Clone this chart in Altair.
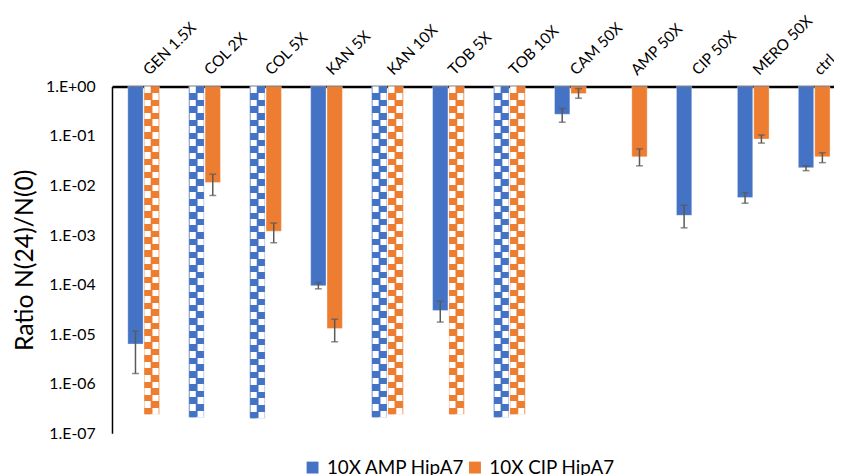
import altair as alt
import pandas as pd

# ---------------- data ----------------
categories = ["GEN 1.5X", "COL 2X", "COL 5X", "KAN 5X", "KAN 10X", "TOB 5X",
              "TOB 10X", "CAM 50X", "AMP 50X", "CIP 50X", "MERO 50X", "ctrl"]
series_names = ["10X AMP HipA7", "10X CIP HipA7"]

amp_ratio = [6.3e-6, 2.1e-7, 2.0e-7, 9.5e-5, 2.1e-7, 3.0e-5, 2.1e-7, 2.75e-1, None, 2.5e-3, 5.75e-3, 2.3e-2]
amp_err_low = [1.6e-6, None, None, 8.2e-5, None, 1.75e-5, None, 1.9e-1, None, 1.4e-3, 4.4e-3, 2.0e-2]
amp_err_high = [1.15e-5, None, None, 1.1e-4, None, 4.6e-5, None, 3.6e-1, None, 4.0e-3, 7.2e-3, 2.5e-2]
amp_below_limit = [False, True, True, False, True, False, True, False, False, False, False, False]

cip_ratio = [2.4e-7, 1.15e-2, 1.2e-3, 1.3e-5, 2.4e-7, 2.4e-7, 2.4e-7, 7.2e-1, 3.8e-2, None, 8.7e-2, 3.8e-2]
cip_err_low = [None, 6.3e-3, 7.0e-4, 7.0e-6, None, None, None, 5.8e-1, 2.5e-2, None, 7.2e-2, 2.9e-2]
cip_err_high = [None, 1.7e-2, 1.75e-3, 2.0e-5, None, None, None, 9.1e-1, 5.5e-2, None, 1.05e-1, 4.6e-2]
cip_below_limit = [True, False, False, False, True, True, True, False, False, False, False, False]

y_ticks = [1, 1e-1, 1e-2, 1e-3, 1e-4, 1e-5, 1e-6, 1e-7]

rows = []
for i, cat in enumerate(categories):
    for name, vals, lo, hi, chk in [
        (series_names[0], amp_ratio, amp_err_low, amp_err_high, amp_below_limit),
        (series_names[1], cip_ratio, cip_err_low, cip_err_high, cip_below_limit),
    ]:
        if vals[i] is None:
            continue
        rows.append({"cat": cat, "series": name, "ratio": vals[i],
                     "lo": lo[i], "hi": hi[i], "checkered": chk[i]})
df = pd.DataFrame(rows)

# ---------------- style ----------------
FONT = "Lato"
BLUE = "#4472C4"
ORANGE = "#ED7D31"
ERR = "#595959"
SERIES_COLORS = [BLUE, ORANGE]
HALVES = [s + "|" + h for s in series_names for h in ("L", "R")]


def checker_gradient(color, n_cells, white_first):
    stops = []
    for k in range(n_cells):
        white = (k % 2 == 0) == white_first
        col = "#ffffff" if white else color
        stops.append(alt.GradientStop(offset=k / n_cells, color=col))
        stops.append(alt.GradientStop(offset=(k + 1) / n_cells, color=col))
    return alt.LinearGradient(gradient="linear", x1=0, y1=0, x2=0, y2=1, stops=stops)


x_enc = alt.X("cat:N", sort=categories, title=None,
              scale=alt.Scale(paddingInner=0.48, paddingOuter=0.162, align=0.8),
              axis=alt.Axis(orient="top", labelAngle=-45, labelAlign="left",
                            labelBaseline="alphabetic", labelFontSize=15.5, labelFont=FONT,
                            labelColor="black", labelPadding=11, labelOffset=6,
                            ticks=False, domainColor="black", domainWidth=2.5,
                            labelBound=False, labelOverlap=False, grid=False))
xoff_enc = alt.XOffset("series:N", sort=series_names,
                       scale=alt.Scale(domain=series_names, paddingInner=0.06, paddingOuter=0))
xoff_half = alt.XOffset("half:N", sort=HALVES,
                        scale=alt.Scale(domain=HALVES, paddingInner=0, paddingOuter=0))
y_scale = alt.Scale(type="log", domain=[1e-7, 1])
label_expr = ("'1.E' + (round(log(datum.value)/LN10) >= 0 ? '+' : '-') + "
              "(abs(round(log(datum.value)/LN10)) < 10 ? '0' : '') + "
              "abs(round(log(datum.value)/LN10))")
y_axis = alt.Axis(values=y_ticks, labelExpr=label_expr, ticks=False, grid=False,
                  domainColor="black", domainWidth=1.5, labelFontSize=16,
                  labelFont=FONT, labelColor="black", labelPadding=17,
                  title="Ratio N(24)/N(0)", titleFontSize=25, titleFont=FONT,
                  titleFontWeight="normal", titleColor="black", titlePadding=8)

base = alt.Chart(df)

bars = base.mark_bar(stroke="white", strokeOpacity=0.35, strokeWidth=1).encode(
    x=x_enc,
    xOffset=xoff_enc,
    y=alt.Y("ratio:Q", scale=y_scale, axis=y_axis),
    y2=alt.datum(1),
    color=alt.Color("series:N", sort=series_names,
                    scale=alt.Scale(domain=series_names, range=SERIES_COLORS),
                    legend=alt.Legend(orient="none", legendX=193, legendY=375,
                                      direction="horizontal", title=None,
                                      symbolType="square", symbolSize=144,
                                      symbolStrokeWidth=0, labelFontSize=19,
                                      labelFont=FONT, labelColor="black",
                                      labelOffset=5, columnPadding=0, padding=0)),
)

layers = [bars]
for s_name, s_color in zip(series_names, SERIES_COLORS):
    for hname, white_first in [("L", True), ("R", False)]:
        sel = base.transform_filter(
            f"datum.checkered && datum.series == '{s_name}'"
        ).transform_calculate(half=f"datum.series + '|{hname}'")
        layers.append(
            sel.mark_bar(color=checker_gradient(s_color, 50, white_first),
                         width=6.2).encode(
                x=x_enc, xOffset=xoff_half,
                y=alt.Y("ratio:Q", scale=y_scale), y2=alt.datum(1))
        )

err = base.transform_filter("isValid(datum.lo)")
layers.append(err.mark_rule(color=ERR, strokeWidth=1.5).encode(
    x=x_enc, xOffset=xoff_enc, y=alt.Y("lo:Q", scale=y_scale), y2="hi:Q"))
layers.append(err.mark_tick(color=ERR, thickness=1.5, size=7, orient="horizontal").encode(
    x=x_enc, xOffset=xoff_enc, y=alt.Y("lo:Q", scale=y_scale)))
layers.append(err.mark_tick(color=ERR, thickness=1.5, size=7, orient="horizontal").encode(
    x=x_enc, xOffset=xoff_enc, y=alt.Y("hi:Q", scale=y_scale)))

chart = alt.layer(*layers).resolve_scale(xOffset="independent").properties(
    width=729, height=350,
    autosize=alt.AutoSizeParams(type="none"),
    padding={"left": 105, "top": 77, "right": 0, "bottom": 40},
).configure_view(stroke=None)

chart.save("out.html", embed_options={"renderer": "svg", "actions": False})
